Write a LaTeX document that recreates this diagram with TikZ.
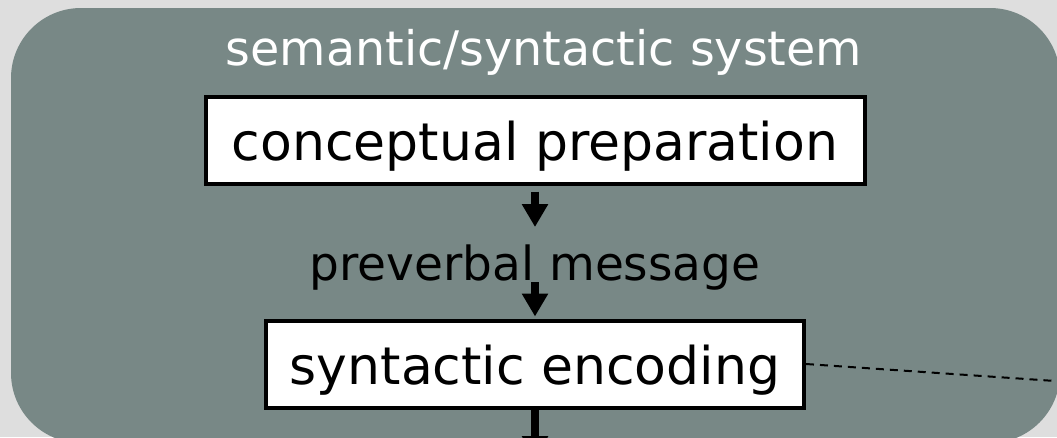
\documentclass[tikz,border=0pt]{standalone}
\usepackage{fontspec}
\setmainfont{DejaVu Sans}
\usetikzlibrary{arrows.meta}
\definecolor{pagebg}{RGB}{222,222,222}
\definecolor{panel}{RGB}{120,136,134}
\tikzset{
  stagebox/.style={draw=black, fill=white, line width=4pt, inner xsep=0pt, inner ysep=0pt,
    text height=63.5pt, text depth=23.5pt, font=\fontsize{52}{56}\selectfont, anchor=base},
  flow/.style={line width=8pt, -{Triangle[width=25pt,length=23pt]}},
  linkline/.style={line width=2pt, dash pattern=on 8pt off 6pt},
}
\begin{document}
\begin{tikzpicture}[x=1pt,y=-1pt]
\useasboundingbox (0,0) rectangle (1057,437);
\fill[pagebg] (0,0) rectangle (1057,437);
\begin{scope}
\clip (0,0) rectangle (1057,437);
% system panel
\fill[panel, rounded corners=70pt] (11,8) rectangle (1060,443);
\node[font=\fontsize{47.6}{50}\selectfont, text=white, anchor=base] (title) at (544,65) {semantic/syntactic system};
% processing stages
\node[stagebox, minimum width=659pt] (concept) at (535,160) {conceptual preparation};
\node[font=\fontsize{47}{50}\selectfont, anchor=base] (msg) at (535,280) {preverbal message};
\node[stagebox, minimum width=538pt] (syntax) at (535,384) {syntactic encoding};
% arrow end points
\coordinate (tip1) at (535,227);
\coordinate (msgfoot) at (535,282);
\coordinate (outlet) at (535,459);
\coordinate (dashend) at (1070,382);
% connectors
\draw[flow, shorten <=6pt] (concept.south) -- (tip1);
\draw[flow, shorten >=2pt] (msgfoot) -- (syntax.north);
\draw[flow] (syntax.south) -- (outlet);
\draw[linkline] (syntax.east) -- (dashend);
\end{scope}
\end{tikzpicture}
\end{document}
